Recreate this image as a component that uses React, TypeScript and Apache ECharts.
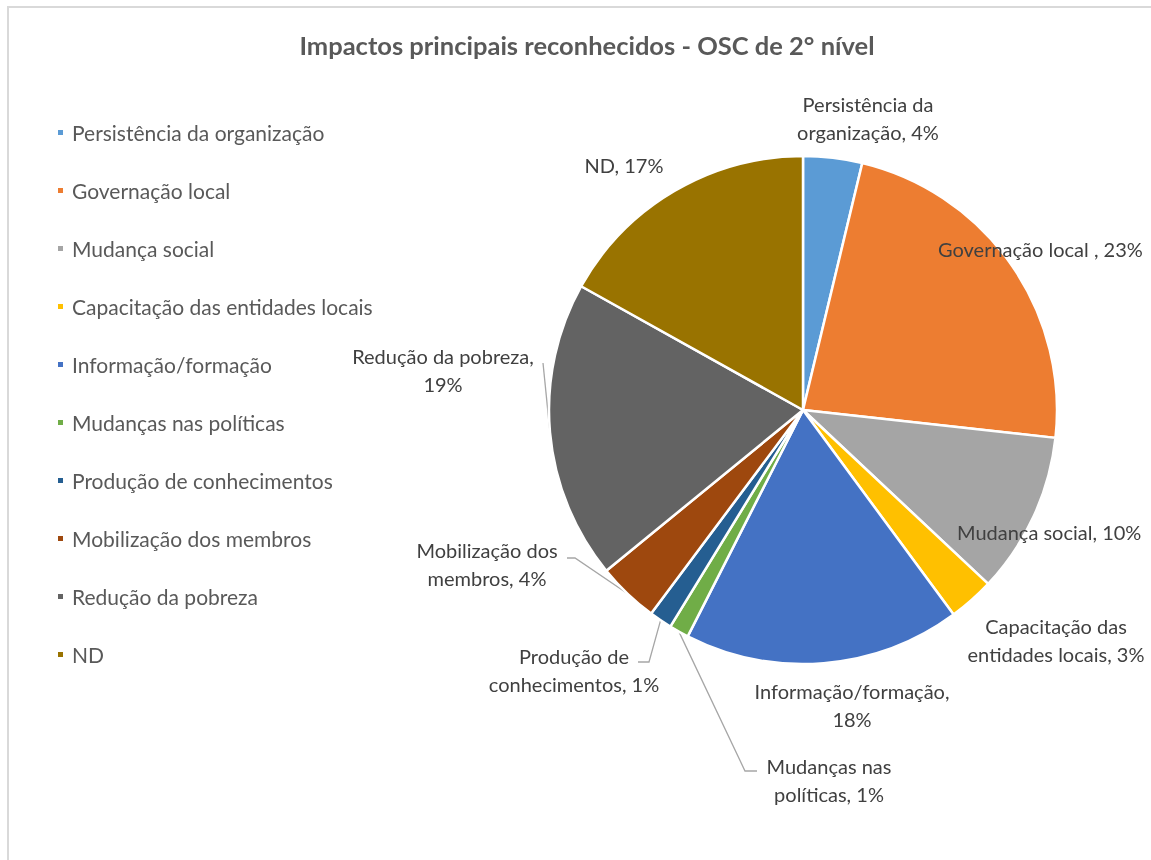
import React, { useEffect, useRef } from "react";
import * as echarts from "echarts";

const TITLE = "Impactos principais reconhecidos - OSC de 2° nível";

const categories = [
  "Persistência da organização",
  "Governação local ",
  "Mudança social",
  "Capacitação das entidades locais",
  "Informação/formação",
  "Mudanças nas políticas",
  "Produção de conhecimentos",
  "Mobilização dos membros",
  "Redução da pobreza",
  "ND",
];

const shares = [3.75, 23, 10.25, 2.9, 17.6, 1.25, 1.45, 3.9, 19, 16.9];

const colors = [
  "#5B9BD5",
  "#ED7D31",
  "#A5A5A5",
  "#FFC000",
  "#4472C4",
  "#70AD47",
  "#255E91",
  "#9E480E",
  "#636363",
  "#997300",
];

// number of words on first label line (0 = single line)
const labelBreakAfter = [2, 0, 0, 2, 1, 2, 2, 2, 3, 0];

// label anchor (page px) and alignment
const labelAnchors: [number, number, string][] = [
  [868, 118, "center"],
  [938, 249, "left"],
  [957, 532, "left"],
  [1056, 640, "center"],
  [852, 705, "center"],
  [829, 780, "center"],
  [574, 670, "center"],
  [487, 564, "center"],
  [443, 370, "center"],
  [624, 165, "center"],
];

// leader line bends after the slice edge point
const leaderBends: (number[][] | null)[] = [
  null,
  null,
  null,
  null,
  null,
  [[745, 771], [757, 771]],
  [[649, 662], [638, 662]],
  [[575, 558], [567, 558]],
  [[543, 363]],
  null,
];

const PIE_CENTER = [803, 410];
const PIE_RADIUS = 254;
const FONT = "Lato, 'Noto Sans', sans-serif";

export default function App() {
  const ref = useRef<HTMLDivElement>(null);

  useEffect(() => {
    if (!ref.current) return;
    const chart = echarts.init(ref.current, undefined, { renderer: "svg" });
    const total = shares.reduce((a, b) => a + b, 0);

    const edgePoint = (i: number) => {
      let before = 0;
      for (let k = 0; k < i; k++) before += shares[k];
      const mid = ((before + shares[i] / 2) / total) * Math.PI * 2;
      return [
        PIE_CENTER[0] + PIE_RADIUS * Math.sin(mid),
        PIE_CENTER[1] - PIE_RADIUS * Math.cos(mid),
      ];
    };

    chart.setOption({
      animation: false,
      graphic: [
        {
          type: "text",
          x: 587,
          y: 45,
          style: {
            text: TITLE,
            font: `bold 25.5px ${FONT}`,
            fill: "#595959",
            align: "center",
            verticalAlign: "middle",
          },
        },
      ],
      legend: {
        orient: "vertical",
        left: 56,
        top: 122,
        padding: 0,
        itemWidth: 7,
        itemHeight: 7,
        itemGap: 37,
        icon: "rect",
        data: categories,
        textStyle: {
          fontFamily: FONT,
          fontSize: 21,
          lineHeight: 21,
          color: "#595959",
          padding: [0, 0, 0, 3],
        },
      },
      series: [
        {
          type: "pie",
          center: PIE_CENTER,
          radius: PIE_RADIUS,
          startAngle: 90,
          clockwise: true,
          avoidLabelOverlap: false,
          itemStyle: { borderColor: "#ffffff", borderWidth: 2.5 },
          label: {
            show: true,
            position: "outside",
            fontFamily: FONT,
            fontSize: 20,
            lineHeight: 27.5,
            color: "#404040",
            formatter: (p: any) => {
              const text = `${p.name}, ${Math.round(p.percent)}%`;
              const words = text.split(" ");
              const n = labelBreakAfter[p.dataIndex];
              if (!n) return text;
              return words.slice(0, n).join(" ") + "\n" + words.slice(n).join(" ");
            },
          },
          labelLine: {
            show: false,
            lineStyle: { color: "#A6A6A6", width: 1.3 },
          },
          labelLayout: (params: any) => {
            const i = params.dataIndex;
            const [x, y, align] = labelAnchors[i];
            const res: any = { x, y, align, verticalAlign: "middle" };
            const bends = leaderBends[i];
            if (bends) {
              const start =
                params.labelLinePoints && params.labelLinePoints[0]
                  ? params.labelLinePoints[0]
                  : edgePoint(i);
              res.labelLinePoints = [start, ...bends];
            }
            return res;
          },
          data: categories.map((name, i) => ({
            name,
            value: shares[i],
            itemStyle: { color: colors[i] },
            labelLine: { show: !!leaderBends[i] },
          })),
        },
      ],
    });

    return () => chart.dispose();
  }, []);

  return (
    <>
      <div
        style={{
          position: "fixed",
          left: 7,
          top: 6,
          width: 1300,
          height: 1000,
          borderTop: "2px solid #D9D9D9",
          borderLeft: "2px solid #D9D9D9",
        }}
      />
      <div
        ref={ref}
        style={{ position: "fixed", left: 0, top: 0, width: 1151, height: 860 }}
      />
    </>
  );
}
